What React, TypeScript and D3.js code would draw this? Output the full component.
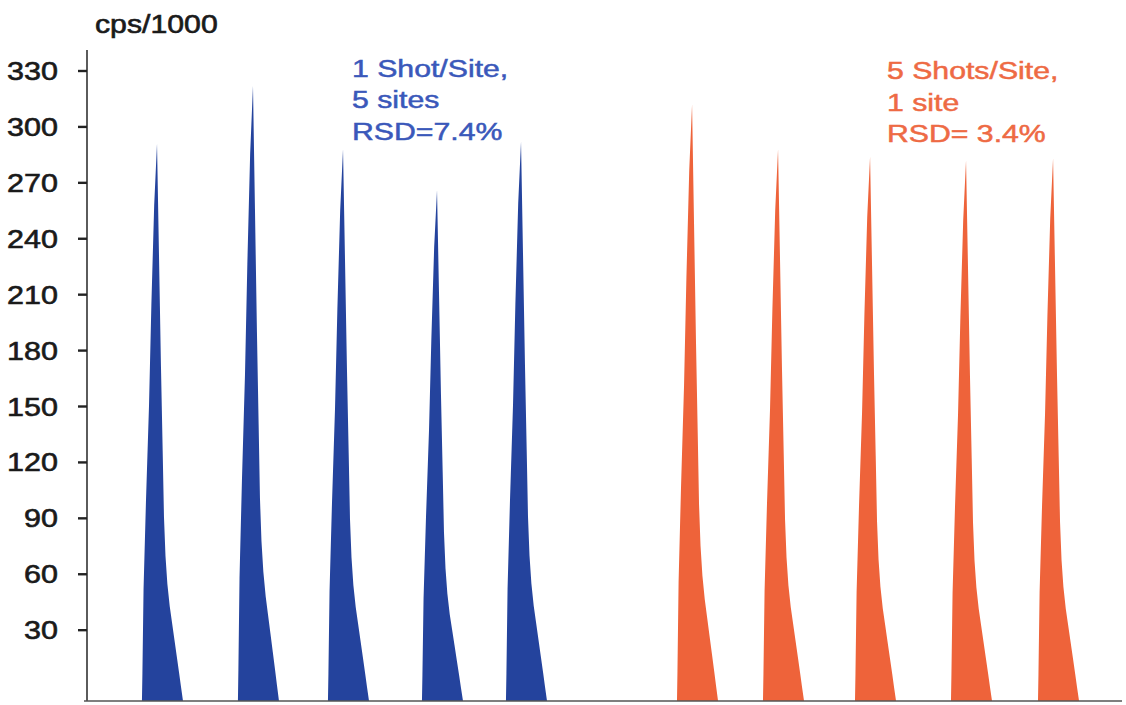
import React from "react";
import * as d3 from "d3";

// ---- data ----
const blueTimes = [7.54, 17.73, 27.29, 37.27, 46.19];
const blueHeights = [291, 322, 288, 266, 292];
const orangeTimes = [64.35, 73.48, 83.25, 93.44, 102.68];
const orangeHeights = [312, 288, 284, 282, 283];
// shape of one transient peak (time offset in s, fraction of peak height)
const profileDt = [-1.6, -1.55, -1.43, -1.17, -0.85, -0.6, -0.3, 0, 0.21, 0.42, 0.6, 0.74, 0.9, 1.1, 1.35, 1.6, 1.85, 2.1, 2.35, 2.55, 2.76];
const profileFrac = [0, 0.05, 0.2, 0.36, 0.53, 0.71, 0.89, 1, 0.8, 0.6, 0.45, 0.33, 0.26, 0.21, 0.17, 0.14, 0.11, 0.08, 0.05, 0.025, 0];
const yTicks = [30, 60, 90, 120, 150, 180, 210, 240, 270, 300, 330];
const yLabel = "cps/1000";
const blueNote = ["1 Shot/Site,", "5 sites", "RSD=7.4%"];
const orangeNote = ["5 Shots/Site,", "1 site", "RSD= 3.4%"];

const W = 1126;
const H = 705;
const FONT = "'Liberation Sans', Arial, Helvetica, sans-serif";
const BLUE = "#24439d";
const BLUE_TEXT = "#3a58ba";
const ORANGE = "#ee633a";
const ORANGE_TEXT = "#ee6a44";

const x = d3.scaleLinear().domain([0, 110]).range([86, 1122]);
const y = d3.scaleLinear().domain([-8, 330]).range([701, 71]);

type Pt = { t: number; v: number };

function peakPoints(t0: number, h: number): Pt[] {
  return profileDt.map((dt, i) => ({ t: t0 + dt, v: -8 + (h + 8) * profileFrac[i] }));
}

const area = d3
  .area<Pt>()
  .x((d) => x(d.t))
  .y0(y(-8))
  .y1((d) => y(d.v))
  .curve(d3.curveLinear);

function Note({ lines, x0, baselines, color }: { lines: string[]; x0: number; baselines: number[]; color: string }) {
  return (
    <g>
      {lines.map((l, i) => (
        <text
          key={i}
          transform={`translate(${x0},${baselines[i]}) scale(1.26,1)`}
          fontFamily={FONT}
          fontSize={24}
          fill={color}
          stroke={color}
          strokeWidth={0.5}
        >
          {l}
        </text>
      ))}
    </g>
  );
}

export default function App() {
  const axisX = 87;
  return (
    <svg
      width={W}
      height={H}
      style={{ position: "absolute", left: 0, top: 0, background: "#fff", display: "block" }}
    >
      <rect width={W} height={H} fill="#fff" />
      {/* peaks */}
      {blueTimes.map((t, i) => (
        <path key={"b" + i} d={area(peakPoints(t, blueHeights[i])) || ""} fill={BLUE} />
      ))}
      {orangeTimes.map((t, i) => (
        <path key={"o" + i} d={area(peakPoints(t, orangeHeights[i])) || ""} fill={ORANGE} />
      ))}
      {/* axes */}
      <line x1={axisX} x2={axisX} y1={50} y2={y(-8)} stroke="#333" strokeWidth={1.6} />
      <line x1={84} x2={1122} y1={y(-8)} y2={y(-8)} stroke="#555" strokeWidth={1.6} />
      {yTicks.map((v) => (
        <g key={v}>
          <line x1={axisX - 9} x2={axisX} y1={y(v)} y2={y(v)} stroke="#222" strokeWidth={2.4} />
          <text
            transform={`translate(58,${y(v) + 9}) scale(1.22,1)`}
            textAnchor="end"
            fontFamily={FONT}
            fontSize={25}
            fill="#1a1a1a"
            stroke="#1a1a1a"
            strokeWidth={0.6}
          >
            {v}
          </text>
        </g>
      ))}
      <text
        transform={`translate(95,33) scale(1.21,1)`}
        fontFamily={FONT}
        fontSize={25}
        fill="#1a1a1a"
        stroke="#1a1a1a"
        strokeWidth={0.6}
      >
        {yLabel}
      </text>
      {/* annotations */}
      <Note lines={blueNote} x0={352} baselines={[77, 108, 140]} color={BLUE_TEXT} />
      <Note lines={orangeNote} x0={887} baselines={[79, 111, 142]} color={ORANGE_TEXT} />
    </svg>
  );
}
